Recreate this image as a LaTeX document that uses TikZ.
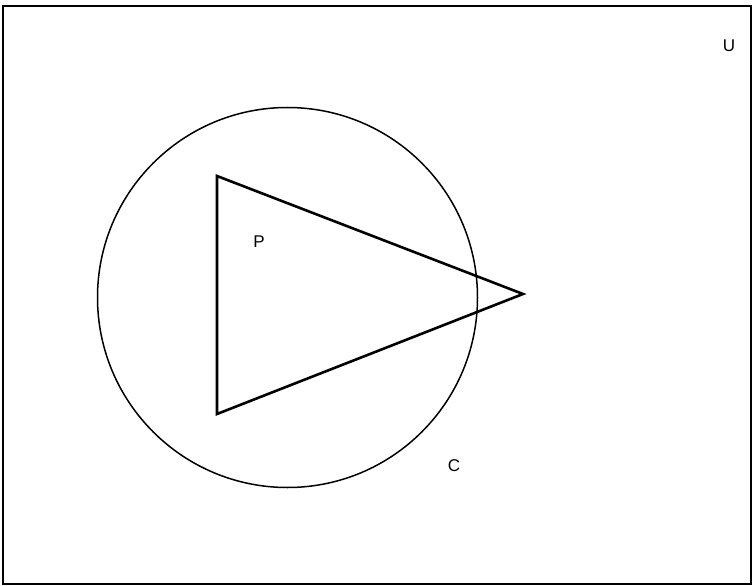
\documentclass[tikz,border=0pt]{standalone}
\usepackage{fontspec}
\setmainfont{Liberation Sans}

\begin{document}
\begin{tikzpicture}[x=1pt,y=-1pt, every node/.style={font=\fontsize{17}{19}\selectfont},
      frame/.style={draw=black,line width=2pt},
      setc/.style={draw=black,line width=1.5pt},
      setp/.style={draw=black,line width=2.6pt,line join=miter}]
    \useasboundingbox (0,0) rectangle (753,586);
    \draw[frame] (3,6) rectangle (751,584);
    \draw[setc] (287.5,297.5) circle (190);
    \coordinate (ptop) at (217,176);
    \coordinate (ptip) at (523,294);
    \coordinate (pbot) at (217,414);
    \draw[setp] (ptop)--(ptip)--(pbot)--cycle;
    \node (u) at (729,46) {U};
    \node (p) at (259,242) {P};
    \node (c) at (454,466) {C};
  \end{tikzpicture}
\end{document}
